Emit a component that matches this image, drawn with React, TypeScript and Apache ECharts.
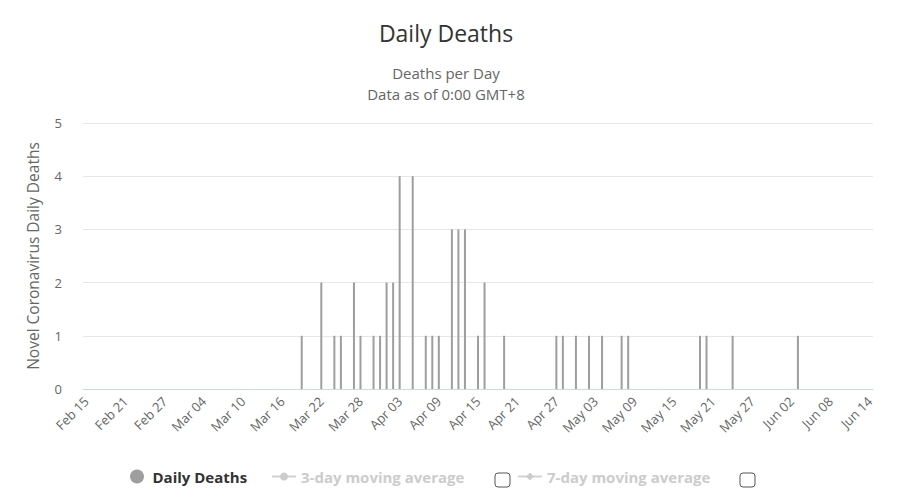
import React, { useEffect, useRef } from "react";
import * as echarts from "echarts";

const START_DATE = "2020-02-15";
const DAY_COUNT = 121; // Feb 15 .. Jun 14, 2020

// Daily deaths, one value per day starting Feb 15, 2020
const dailyDeaths = [
  0, 0, 0, 0, 0, 0, 0, 0, 0, 0, // Feb 15 - Feb 24
  0, 0, 0, 0, 0, 0, 0, 0, 0, 0, // Feb 25 - Mar 05
  0, 0, 0, 0, 0, 0, 0, 0, 0, 0, // Mar 06 - Mar 15
  0, 0, 0, 1, 0, 0, 2, 0, 1, 1, // Mar 16 - Mar 25
  0, 2, 1, 0, 1, 1, 2, 2, 4, 0, // Mar 26 - Apr 04
  4, 0, 1, 1, 1, 0, 3, 3, 3, 0, // Apr 05 - Apr 14
  1, 2, 0, 0, 1, 0, 0, 0, 0, 0, // Apr 15 - Apr 24
  0, 0, 1, 1, 0, 1, 0, 1, 0, 1, // Apr 25 - May 04
  0, 0, 1, 1, 0, 0, 0, 0, 0, 0, // May 05 - May 14
  0, 0, 0, 0, 1, 1, 0, 0, 0, 1, // May 15 - May 24
  0, 0, 0, 0, 0, 0, 0, 0, 0, 1, // May 25 - Jun 03
  0, 0, 0, 0, 0, 0, 0, 0, 0, 0, 0, // Jun 04 - Jun 14
];

const yTicks = [0, 1, 2, 3, 4, 5];
const legendNames = ["Daily Deaths", "3-day moving average", "7-day moving average"];
const subtitleLines = ["Deaths per Day", "Data as of 0:00 GMT+8"];

const MONTHS = ["Jan", "Feb", "Mar", "Apr", "May", "Jun", "Jul", "Aug", "Sep", "Oct", "Nov", "Dec"];

function buildCategories(): string[] {
  const out: string[] = [];
  const base = new Date(START_DATE + "T00:00:00Z").getTime();
  for (let i = 0; i < DAY_COUNT; i++) {
    const d = new Date(base + i * 86400000);
    const dd = String(d.getUTCDate()).padStart(2, "0");
    out.push(`${MONTHS[d.getUTCMonth()]} ${dd}`);
  }
  return out;
}

const FONT = "'Open Sans', sans-serif";

export default function App() {
  const ref = useRef<HTMLDivElement>(null);
  useEffect(() => {
    if (!ref.current) return;
    const chart = echarts.init(ref.current, undefined, { renderer: "svg" });
    const categories = buildCategories();
    const legendBase = {
      orient: "horizontal",
      top: 469,
      padding: 0,
      textStyle: { fontFamily: FONT, fontSize: 15, fontWeight: "bold", color: "#333" },
      inactiveColor: "#cccccc",
      selected: { [legendNames[1]]: false, [legendNames[2]]: false },
    };
    const subStyle = { fontFamily: FONT, fontSize: 15, fontWeight: "normal", color: "#666", lineHeight: 18 };
    chart.setOption({
      animation: false,
      textStyle: { fontFamily: FONT },
      title: [
        {
          text: "Daily Deaths",
          left: 446,
          textAlign: "center",
          top: 21,
          padding: 0,
          textStyle: { fontFamily: FONT, fontSize: 23, fontWeight: "normal", color: "#333" },
        },
        {
          text: subtitleLines[0],
          left: 446,
          textAlign: "center",
          top: 64.3,
          padding: 0,
          textStyle: subStyle,
        },
        {
          text: subtitleLines[1],
          left: 446,
          textAlign: "center",
          top: 85,
          padding: 0,
          textStyle: subStyle,
        },
      ],
      legend: [
        {
          ...legendBase,
          data: [legendNames[0]],
          left: 130,
          icon: "circle",
          itemWidth: 21,
          itemHeight: 14,
          itemGap: 0,
        },
        {
          ...legendBase,
          data: [legendNames[1]],
          left: 271,
          itemWidth: 24,
          itemHeight: 10,
        },
        {
          ...legendBase,
          data: [legendNames[2]],
          left: 517,
          itemWidth: 24,
          itemHeight: 10,
        },
      ],
      grid: { left: 83, right: 35, top: 123, bottom: 110, containLabel: false },
      xAxis: {
        type: "category",
        data: categories,
        boundaryGap: true,
        axisLine: { lineStyle: { color: "#ccd6eb" } },
        axisTick: { show: false },
        axisLabel: {
          interval: 5,
          rotate: 45,
          color: "#666",
          fontSize: 13,
          fontFamily: FONT,
          margin: 10,
        },
      },
      yAxis: {
        type: "value",
        min: yTicks[0],
        max: yTicks[yTicks.length - 1],
        interval: 1,
        name: "Novel Coronavirus Daily Deaths",
        nameLocation: "middle",
        nameGap: 42,
        nameTextStyle: { color: "#666", fontSize: 15.5, fontFamily: FONT },
        axisLabel: { color: "#666", fontSize: 13, fontFamily: FONT, margin: 21 },
        axisLine: { show: false },
        axisTick: { show: false },
        splitLine: { lineStyle: { color: "#e6e6e6" } },
      },
      series: [
        {
          name: legendNames[0],
          type: "bar",
          data: dailyDeaths,
          barWidth: 2,
          itemStyle: { color: "#9e9e9e" },
        },
        {
          name: legendNames[1],
          type: "line",
          data: [],
          symbol: "circle",
          itemStyle: { color: "#7cb5ec" },
        },
        {
          name: legendNames[2],
          type: "line",
          data: [],
          symbol: "diamond",
          itemStyle: { color: "#434348" },
        },
      ],
      graphic: [
        {
          type: "rect",
          shape: { x: 495, y: 473, width: 15, height: 14, r: 3 },
          style: { fill: "#fff", stroke: "#555", lineWidth: 1 },
        },
        {
          type: "rect",
          shape: { x: 740, y: 473, width: 15, height: 14, r: 3 },
          style: { fill: "#fff", stroke: "#555", lineWidth: 1 },
        },
      ],
    });
    return () => chart.dispose();
  }, []);
  return <div ref={ref} style={{ position: "absolute", left: 0, top: 0, width: 908, height: 499 }} />;
}
